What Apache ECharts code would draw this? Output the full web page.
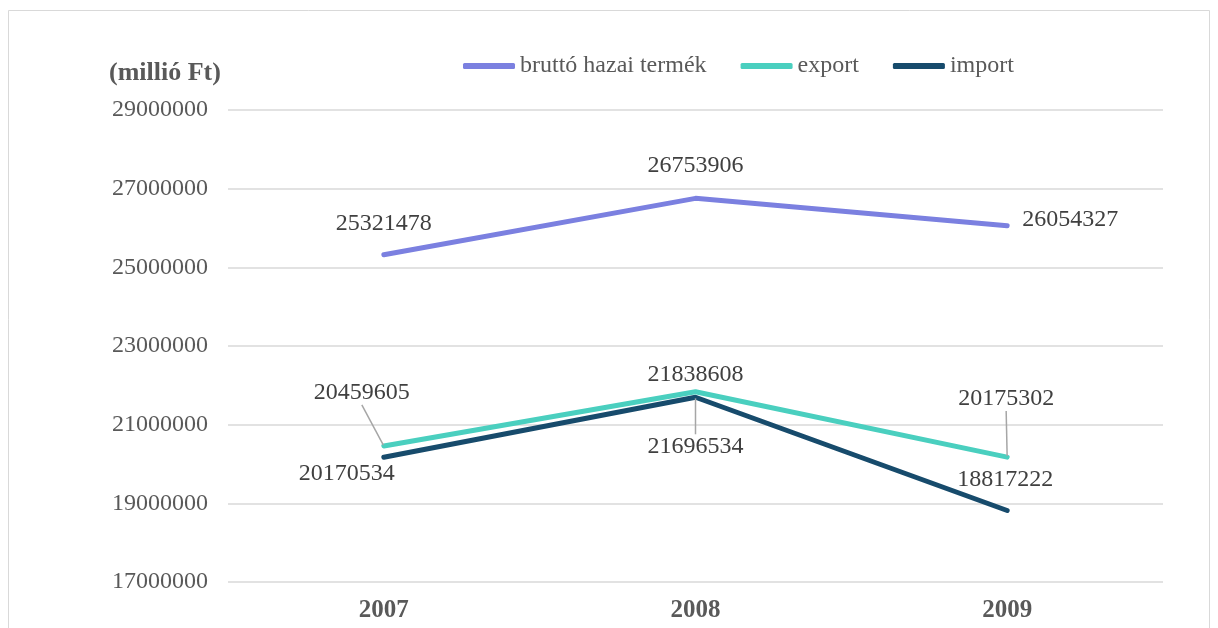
<!DOCTYPE html>
<html>
<head>
<meta charset="utf-8">
<script src="https://cdn.jsdelivr.net/npm/echarts@6/dist/echarts.min.js"></script>
<style>
  html, body { margin: 0; padding: 0; background: #fff; }
  #main { width: 1218px; height: 628px; }
</style>
</head>
<body>
<div id="main"></div>
<script>
// adatok
var years = ['2007', '2008', '2009'];
var gdp = [25321478, 26753906, 26054327];
var exportVals = [20459605, 21838608, 20175302];
var importVals = [20170534, 21696534, 18817222];
var seriesNames = ['bruttó hazai termék', 'export', 'import'];

var font = '"Liberation Serif", "Times New Roman", serif';
var colors = ['#7b80e0', '#4acfbf', '#174b6c'];

// label eltolások (dx, dy) pontonként
var offsets = [
  [[0, -13], [0, -15], [63, 12]],
  [[-22, -35], [0, 1], [-1, -40]],
  [[-37, 34], [0, 67], [-2, -13]]
];
var leader = [
  [false, false, false],
  [true, false, true],
  [false, true, false]
];

function makeSeries(idx, values) {
  return {
    name: seriesNames[idx],
    type: 'line',
    data: values.map(function (v, i) {
      return { value: v, labelLine: { show: leader[idx][i] } };
    }),
    symbol: 'circle',
    symbolSize: 2,
    lineStyle: { width: 5, color: colors[idx], cap: 'round', join: 'round' },
    itemStyle: { color: colors[idx] },
    z: 10 - idx,
    label: {
      show: true,
      position: 'top',
      distance: 5,
      fontFamily: font,
      fontSize: 24,
      color: '#404040'
    },
    labelLine: { lineStyle: { color: '#a6a6a6', width: 1.5 } },
    labelLayout: function (p) {
      var o = offsets[idx][p.dataIndex];
      return { dx: o[0], dy: o[1] };
    }
  };
}

var chart = echarts.init(document.getElementById('main'));
chart.setOption({
  animation: false,
  backgroundColor: '#fff',
  graphic: [{
    type: 'rect',
    shape: { x: 8.5, y: 10.5, width: 1201, height: 640 },
    style: { fill: 'none', stroke: '#d9d9d9', lineWidth: 1 },
    silent: true
  }],
  title: {
    text: '(millió Ft)',
    left: 104,
    top: 55,
    textStyle: { fontFamily: font, fontSize: 26, fontWeight: 'bold', color: '#595959' }
  },
  legend: {
    top: 49,
    left: 458,
    itemWidth: 52,
    itemHeight: 6,
    itemGap: 34,
    icon: 'roundRect',
    textStyle: { fontFamily: font, fontSize: 24, color: '#595959' },
    data: seriesNames
  },
  grid: { left: 228, right: 55, top: 110, bottom: 46 },
  xAxis: {
    type: 'category',
    data: years,
    boundaryGap: true,
    axisLine: { show: false },
    axisTick: { show: false },
    axisLabel: { fontFamily: font, fontSize: 25, fontWeight: 'bold', color: '#595959', margin: 16 }
  },
  yAxis: {
    type: 'value',
    min: 17000000,
    max: 29000000,
    interval: 2000000,
    axisLine: { show: false },
    axisTick: { show: false },
    splitLine: { lineStyle: { color: '#d9d9d9', width: 1.5 } },
    axisLabel: {
      fontFamily: font, fontSize: 24, color: '#595959', margin: 20,
      formatter: function (v) { return String(v); }
    }
  },
  series: [
    makeSeries(0, gdp),
    makeSeries(1, exportVals),
    makeSeries(2, importVals)
  ]
});
</script>
</body>
</html>
